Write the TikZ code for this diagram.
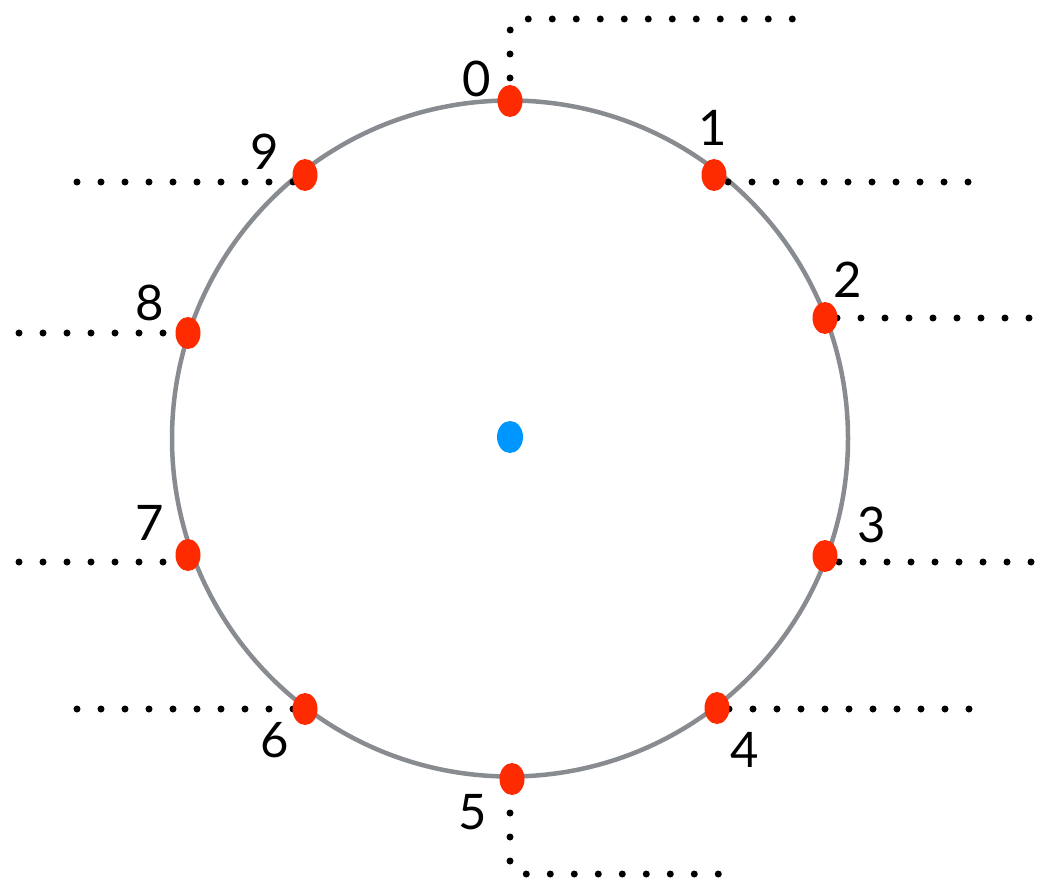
\documentclass[tikz,border=0pt]{standalone}
\usepackage{fontspec}
\setmainfont{Lato}
\usetikzlibrary{shapes.geometric}
\definecolor{rimgray}{RGB}{136,139,143}
\definecolor{pointred}{RGB}{255,43,0}
\definecolor{centerblue}{RGB}{0,150,255}
\begin{document}
\begin{tikzpicture}[x=1pt,y=-1pt,
  rim/.style={circle,draw=rimgray,line width=4.5pt,minimum size=676pt,inner sep=0pt},
  pt/.style={ellipse,fill=pointred,minimum width=25pt,minimum height=32pt,inner sep=0pt},
  ctr/.style={ellipse,fill=centerblue,minimum width=26pt,minimum height=32pt,inner sep=0pt},
  lbl/.style={inner sep=0pt,font=\fontsize{49}{49}\selectfont},
  dotline/.style={line width=7pt,line cap=round,dash pattern=on 0pt off 24pt}]
\useasboundingbox (0,0) rectangle (1039,883);
\node[rim] (circ) at (510,438.5) {};
\node[ctr] (c) at (510,437) {};
% end coordinates
\coordinate (e0) at (793,19);
\coordinate (k0) at (510,19);
\coordinate (e1) at (970,182);
\coordinate (e2) at (1030,318);
\coordinate (e3) at (1032,562);
\coordinate (e4) at (970,709);
\coordinate (k5) at (510,874);
\coordinate (e5) at (721,874);
\coordinate (e6) at (76,709);
\coordinate (e7) at (18,562);
\coordinate (e8) at (18,333);
\coordinate (e9) at (76,182);
% dotted leaders (drawn before points)
\coordinate (s0) at (510,78);
\coordinate (s5) at (510,813);
\draw[dotline,rounded corners=12pt] (s0) -- (k0) -- (e0);
\draw[dotline,rounded corners=12pt] (s5) -- (k5) -- (e5);
\draw[dotline] (728,182) -- (e1);
\draw[dotline] (837,318) -- (e2);
\draw[dotline] (839,562) -- (e3);
\draw[dotline] (729,709) -- (e4);
\draw[dotline] (293,709) -- (e6);
\draw[dotline] (163,562) -- (e7);
\draw[dotline] (163,333) -- (e8);
\draw[dotline] (293,182) -- (e9);
% points
\node[pt] (d0) at (510,101) {};
\node[pt] (d1) at (714,175) {};
\node[pt] (d2) at (825,318) {};
\node[pt] (d3) at (825,556) {};
\node[pt] (d4) at (717,708) {};
\node[pt] (d5) at (512,779) {};
\node[pt] (d6) at (305,709) {};
\node[pt] (d7) at (188,555) {};
\node[pt] (d8) at (188,333) {};
\node[pt] (d9) at (305,175) {};
% labels
\node[lbl] (l0) at (477,79) {0};
\node[lbl] (l1) at (713,128) {1};
\node[lbl] (l2) at (848,280) {2};
\node[lbl] (l3) at (872,525) {3};
\node[lbl] (l4) at (745,750) {4};
\node[lbl] (l5) at (473,812) {5};
\node[lbl] (l6) at (275,740) {6};
\node[lbl] (l7) at (150,523) {7};
\node[lbl] (l8) at (150,303) {8};
\node[lbl] (l9) at (265,152) {9};
\end{tikzpicture}
\end{document}
